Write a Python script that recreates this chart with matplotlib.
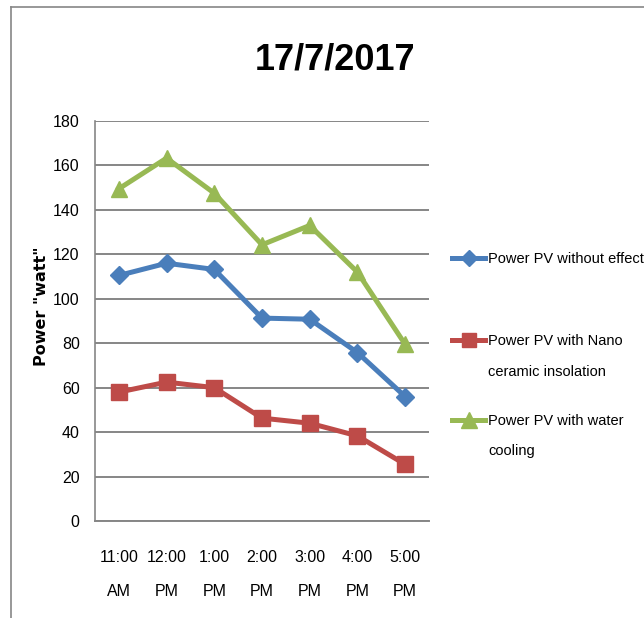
import matplotlib
matplotlib.use('Agg')
import matplotlib.pyplot as plt
from matplotlib.lines import Line2D

times = ['11:00\nAM', '12:00\nPM', '1:00\nPM', '2:00\nPM', '3:00\nPM', '4:00\nPM', '5:00\nPM']
pv_plain = [110.5, 116, 113.2, 91.3, 90.8, 75.8, 56]
pv_nano = [58, 62.5, 60, 46.3, 44, 38.3, 25.5]
pv_water = [149.5, 163.3, 147.5, 124.3, 133, 112, 79.5]

labels = ['Power PV without effect', 'Power PV with Nano\nceramic insolation',
          'Power PV with water\ncooling']
colors = ['#4A7EBB', '#BE4B48', '#98B954']
markers = ['D', 's', '^']
msizes = [9, 11, 12]

font = ['Liberation Sans', 'DejaVu Sans']
W, H = 644, 618

fig = plt.figure(figsize=(W / 100, H / 100), dpi=100)
ax = fig.add_axes([95 / W, 1 - 521 / H, (429 - 95) / W, 400 / H])

x = range(len(times))
for vals, c, m, s in zip([pv_plain, pv_nano, pv_water], colors, markers, msizes):
    ax.plot(x, vals, color=c, lw=3.6, marker=m, ms=s)

ax.set_xlim(-0.5, len(times) - 0.5)
ax.set_ylim(0, 180)
ax.set_yticks(range(0, 181, 20))
ax.set_xticks(list(x))
ax.set_xticklabels(times, linespacing=2.55)
ax.grid(axis='y', color='#868686', lw=1.4)
ax.set_axisbelow(True)
for s in ['top', 'right']:
    ax.spines[s].set_visible(False)
ax.spines['left'].set_color('#868686')
ax.spines['bottom'].set_color('#868686')
ax.spines['left'].set_linewidth(1.2)
ax.spines['bottom'].set_linewidth(1.4)
ax.tick_params(length=0, labelsize=11.5)
ax.tick_params(axis='x', pad=21)
ax.tick_params(axis='y', pad=11)
for lbl in ax.get_xticklabels() + ax.get_yticklabels():
    lbl.set_family(font)

ax.set_ylabel('Power "watt"', fontsize=11.5, fontweight='bold', family='DejaVu Sans')
ax.yaxis.set_label_coords(-0.138, 0.5375)

fig.text(335 / W, 1 - 60 / H, '17/7/2017', fontsize=26, fontweight='bold',
         family=font, ha='center', va='center')

# legend drawn by hand so the marker lines up with the first text line
leg_y = [258, 340, 420]
for lab, c, m, s, yy in zip(labels, colors, markers, msizes, leg_y):
    fig.add_artist(Line2D([452 / W, 468.5 / W, 485 / W], [1 - yy / H] * 3, color=c,
                          lw=3.6, marker=m, ms=s * 0.95, markevery=[1]))
    fig.text(488 / W, 1 - (yy - 6) / H, lab, fontsize=10.5, family=font,
             ha='left', va='top', linespacing=2.5)

fig.add_artist(Line2D([11 / W, 11 / W], [0, 1 - 7 / H], color='#868686', lw=1.2))
fig.add_artist(Line2D([11 / W, 1], [1 - 7 / H, 1 - 7 / H], color='#868686', lw=1.2))

fig.savefig('out.png', dpi=100)
